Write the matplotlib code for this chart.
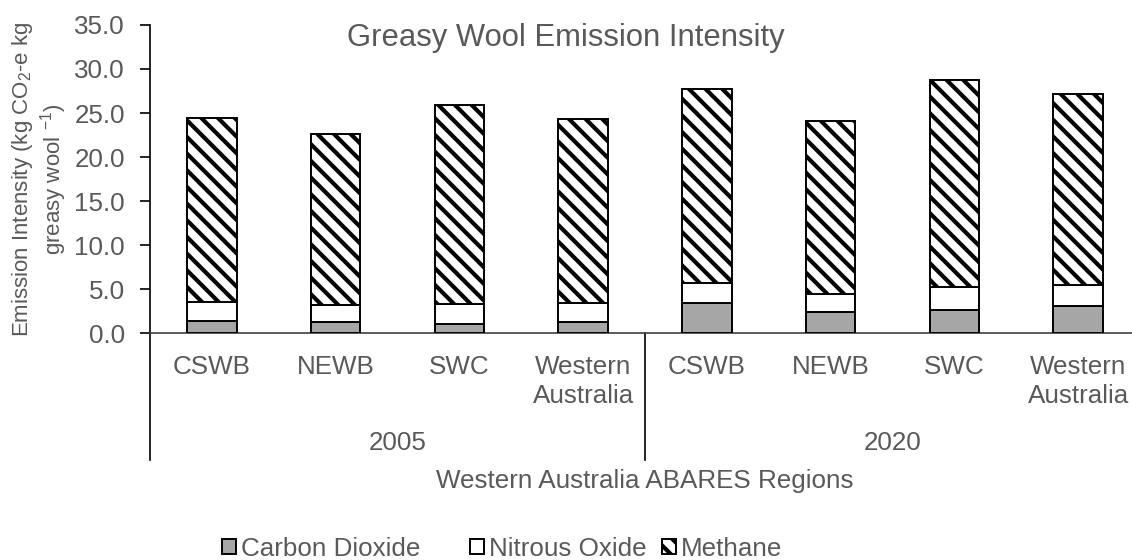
import matplotlib
matplotlib.use("Agg")
import matplotlib.pyplot as plt
import numpy as np

# ---- data ----
years = ["2005", "2020"]
regions = ["CSWB", "NEWB", "SWC", "Western\nAustralia"]
series_names = ["Carbon Dioxide", "Nitrous Oxide", "Methane"]
co2 = [1.40, 1.28, 1.02, 1.28, 3.44, 2.42, 2.68, 3.13]
n2o = [2.12, 1.93, 2.30, 2.16, 2.27, 2.01, 2.57, 2.32]
ch4 = [20.94, 19.44, 22.58, 20.88, 21.98, 19.66, 23.49, 21.74]
y_ticks = [0, 5, 10, 15, 20, 25, 30, 35]

TXT = "#595959"
plt.rcParams["font.family"] = ["Liberation Sans", "DejaVu Sans"]
plt.rcParams["mathtext.fontset"] = "custom"
plt.rcParams["mathtext.rm"] = "Liberation Sans"
plt.rcParams["mathtext.it"] = "Liberation Sans"
plt.rcParams["mathtext.default"] = "regular"
plt.rcParams["hatch.linewidth"] = 3.0
plt.rcParams["hatch.color"] = "black"

W, H = 1132, 560
fig = plt.figure(figsize=(W / 100, H / 100), dpi=100)
x0, x1 = 150, 1140
ytop, ybot = 24.9, 333.3
ax = fig.add_axes([x0 / W, 1 - ybot / H, (x1 - x0) / W, (ybot - ytop) / H])

n = len(years) * len(regions)
x = np.arange(n)
bw = 0.40
co2a = np.array(co2)
n2oa = np.array(n2o)
ch4a = np.array(ch4)
b1 = ax.bar(x, co2a, bw, color="#A6A6A6", edgecolor="black", linewidth=1.4, label=series_names[0], zorder=3)
b2 = ax.bar(x, n2oa, bw, bottom=co2a, color="white", edgecolor="black", linewidth=1.4, label=series_names[1], zorder=3)
b3 = ax.bar(x, ch4a, bw, bottom=co2a + n2oa, color="white", edgecolor="black", linewidth=1.4,
            hatch="\\\\", label=series_names[2], zorder=3)

ax.set_xlim(-0.5, n - 0.5)
ax.set_ylim(0, 35)
ax.set_yticks(y_ticks)
ax.set_yticklabels([f"{v:.1f}" for v in y_ticks])
ax.set_xticks(x)
ax.set_xticklabels(regions * len(years), linespacing=1.28)
ax.tick_params(axis="y", length=7, width=1.2, color="black", pad=11, labelsize=18.7, labelcolor=TXT)
ax.tick_params(axis="x", length=0, pad=15.5, labelsize=18.7, labelcolor=TXT)
for s in ["top", "right"]:
    ax.spines[s].set_visible(False)
ax.spines["left"].set_linewidth(1.2)
ax.spines["bottom"].set_linewidth(1.2)
ax.spines["bottom"].set_color("#404040")

# category group dividers
trans = ax.get_xaxis_transform()
ybottom_line = -(460 - ybot) / (ybot - ytop)
for xv in [-0.5, 3.5, 7.5]:
    ax.plot([xv, xv], [0, ybottom_line], transform=trans, color="black", lw=1.2, clip_on=False)

# year labels
for i, yr in enumerate(years):
    ax.text(1.5 + 4 * i, -(443 - ybot) / (ybot - ytop), yr, transform=trans, ha="center", va="center",
            fontsize=18.7, color=TXT)

# axis titles
fig.text((x0 + x1) / 2 / W, 1 - 481 / H, "Western Australia ABARES Regions", ha="center", va="center",
         fontsize=18.7, color=TXT)
yc = 1 - (ytop + ybot) / 2 / H
fig.text(23 / W, yc, "Emission Intensity (kg CO$_2$-e kg", rotation=90, ha="center",
         va="center", fontsize=16, color=TXT)
fig.text(54 / W, yc, "greasy wool $^{-1}$)", rotation=90, ha="center",
         va="center", fontsize=16, color=TXT)

# title
fig.text(347 / W, 1 - 46 / H, "Greasy Wool Emission Intensity", ha="left", va="baseline",
         fontsize=22.3, color=TXT)

# legend: one entry per legend, placed like the reference
legend_x = [222, 470, 662]
for h, name, lx in zip([b1, b2, b3], series_names, legend_x):
    fig.legend(handles=[h], labels=[name], loc="center left", bbox_to_anchor=(lx / W, 1 - 549 / H),
               frameon=False, fontsize=18.7, handlelength=0.52, handleheight=0.52, handletextpad=0.2,
               labelcolor=TXT, borderpad=0, borderaxespad=0)

fig.savefig("out.png", dpi=100)
